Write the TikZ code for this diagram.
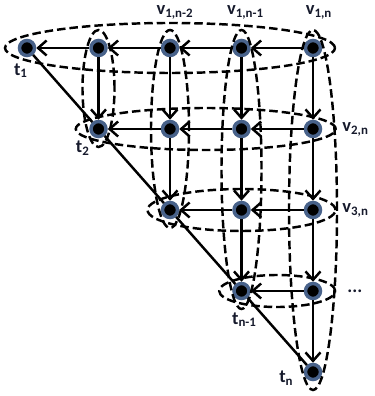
\documentclass[tikz,border=0pt]{standalone}
\usepackage{fontspec}
\setmainfont{Carlito}
\usetikzlibrary{positioning,arrows.meta,calc}
\definecolor{DotHalo}{RGB}{72,98,138}
\definecolor{LabelInk}{RGB}{22,26,44}

\begin{document}
\begin{tikzpicture}[x=1.43cm,y=1.62cm,
    every node/.style={font=\fontsize{10.5}{12}\selectfont\bfseries, text=LabelInk},
    dot/.style={circle, fill=black, draw=DotHalo, line width=0.07cm, minimum size=0.3cm, inner sep=0pt},
    arr/.style={-{Straight Barb[length=1.7mm,width=3mm]}, line width=1.4pt},
    grp/.style={line width=1.4pt, dash pattern=on 0.17cm off 0.08cm}]
  \useasboundingbox (-0.54cm,0.96cm) rectangle (6.94cm,-6.96cm);

  % the triangle of vertices, row r holds columns r..5
  \foreach \col in {1,...,5}
    \foreach \row in {1,...,\col}
      \node[dot] (v-\row-\col) at (\col-1,1-\row) {};

  % groups of rows and columns
  \draw[grp] ($(v-1-1)!0.5!(v-1-5)$) ellipse [x radius=3.3cm, y radius=0.5cm];
  \draw[grp] ($(v-2-2)!0.5!(v-2-5)$) ellipse [x radius=2.6cm, y radius=0.42cm];
  \draw[grp] ($(v-3-3)!0.5!(v-3-5)$) ellipse [x radius=1.88cm, y radius=0.42cm];
  \draw[grp] ($(v-4-4)!0.5!(v-4-5)$) ellipse [x radius=1.16cm, y radius=0.32cm];
  \draw[grp] ($(v-1-2)!0.5!(v-2-2)$) ellipse [x radius=0.32cm, y radius=1.17cm];
  \draw[grp] ($(v-1-3)!0.5!(v-3-3)$) ellipse [x radius=0.38cm, y radius=1.98cm];
  \draw[grp] ($(v-1-4)!0.5!(v-4-4)$) ellipse [x radius=0.4cm, y radius=2.79cm];
  \draw[grp] ($(v-1-5)!0.5!(v-5-5)$) ellipse [x radius=0.48cm, y radius=3.6cm];

  % right to left in each row, top to bottom in each column
  \foreach \row in {1,...,4}
    \foreach \col in {\row,...,4} {
      \pgfmathtruncatemacro{\nxt}{\col+1}
      \draw[arr] (v-\row-\nxt) -- (v-\row-\col);
    }
  \foreach \col in {2,...,5}
    \foreach \row in {2,...,\col} {
      \pgfmathtruncatemacro{\prv}{\row-1}
      \draw[arr] (v-\prv-\col) -- (v-\row-\col);
    }
  % diagonal
  \draw[line width=1.4pt] (v-1-1) -- (v-2-2) -- (v-3-3) -- (v-4-4) -- (v-5-5);

  \node[above=0.26cm of v-1-3, xshift=0.1cm] (l13) {v\textsubscript{1,n-2}};
  \node[above=0.26cm of v-1-4, xshift=0.08cm] (l14) {v\textsubscript{1,n-1}};
  \node[above=0.26cm of v-1-5, xshift=0.12cm] (l15) {v\textsubscript{1,n}};
  \node[right=0.28cm of v-2-5] (l25) {v\textsubscript{2,n}};
  \node[right=0.28cm of v-3-5] (l35) {v\textsubscript{3,n}};
  \node[right=0.38cm of v-4-5] (l45) {...};
  \node[below=0.0cm of v-1-1, xshift=-0.12cm] (t1) {t\textsubscript{1}};
  \node[below left=-0.02cm and -0.08cm of v-2-2] (t2) {t\textsubscript{2}};
  \node[below=0.12cm of v-4-4, xshift=0.06cm] (t4) {t\textsubscript{n-1}};
  \node[left=0.08cm of v-5-5, yshift=-0.12cm] (t5) {t\textsubscript{n}};
\end{tikzpicture}
\end{document}
